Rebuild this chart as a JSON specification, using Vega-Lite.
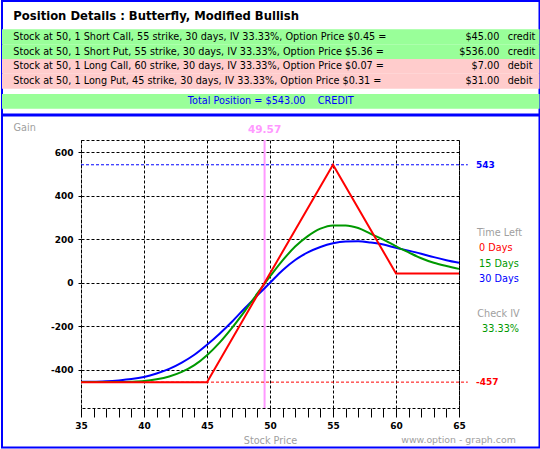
{
  "$schema": "https://vega.github.io/schema/vega-lite/v6.json",
  "background": "white",
  "padding": 0,
  "spacing": -2,
  "resolve": {"scale": {"color": "independent"}, "legend": {"color": "independent"}},
  "config": {
    "font": "DejaVu Sans",
    "view": {"stroke": null},
    "axisX": {
      "tickCount": 30, "grid": true, "gridColor": "black", "gridDash": [3, 2],
      "domain": false, "tickColor": "black", "tickSize": 9,
      "labelFont": "DejaVu Sans", "labelFontWeight": "bold", "labelFontSize": 9, "labelColor": "black",
      "labelPadding": 4, "labelFlush": false, "labelOverlap": false, "labelBound": false,
      "titleFont": "DejaVu Sans", "titleFontWeight": "normal", "titleFontSize": 9.7, "titleColor": "#a0a0a0",
      "titlePadding": 5
    },
    "axisY": {
      "tickCount": 6, "grid": true, "gridColor": "black", "gridDash": [3, 2],
      "domain": false, "tickColor": "black", "tickSize": 5, "tickDash": [3, 2],
      "labelFont": "DejaVu Sans", "labelFontWeight": "bold", "labelFontSize": 9, "labelColor": "black",
      "labelPadding": 3, "labelFlush": false, "labelOverlap": false,
      "titleAngle": 0, "titleAlign": "left", "titleBaseline": "middle", "titleX": -68, "titleY": -13,
      "titleFont": "DejaVu Sans", "titleFontWeight": "normal", "titleFontSize": 9.7, "titleColor": "#a0a0a0"
    }
  },
  "datasets": {
    "legs": [
      {"leg": "Short Call", "desc": "Stock at 50, 1 Short Call, 55 strike, 30 days, IV 33.33%, Option Price $0.45 =", "amount": "$45.00", "side": "credit"},
      {"leg": "Short Put", "desc": "Stock at 50, 1 Short Put, 55 strike, 30 days, IV 33.33%, Option Price $5.36 =", "amount": "$536.00", "side": "credit"},
      {"leg": "Long Call", "desc": "Stock at 50, 1 Long Call, 60 strike, 30 days, IV 33.33%, Option Price $0.07 =", "amount": "$7.00", "side": "debit"},
      {"leg": "Long Put", "desc": "Stock at 50, 1 Long Put, 45 strike, 30 days, IV 33.33%, Option Price $0.31 =", "amount": "$31.00", "side": "debit"},
      {"leg": "Total", "desc": "Total Position = $543.00\u00a0\u00a0\u00a0\u00a0CREDIT", "amount": "$543.00", "side": "total"}
    ],
    "curves": [
      {"S": 35, "pl": -455, "t": "30 Days"}, {"S": 36, "pl": -455, "t": "30 Days"}, {"S": 37, "pl": -453, "t": "30 Days"},
      {"S": 38, "pl": -449, "t": "30 Days"}, {"S": 39, "pl": -443, "t": "30 Days"}, {"S": 40, "pl": -433, "t": "30 Days"},
      {"S": 41, "pl": -417, "t": "30 Days"}, {"S": 42, "pl": -396, "t": "30 Days"}, {"S": 43, "pl": -367, "t": "30 Days"},
      {"S": 44, "pl": -331, "t": "30 Days"}, {"S": 45, "pl": -285, "t": "30 Days"}, {"S": 46, "pl": -234, "t": "30 Days"},
      {"S": 47, "pl": -178, "t": "30 Days"}, {"S": 48, "pl": -117, "t": "30 Days"}, {"S": 49, "pl": -58, "t": "30 Days"},
      {"S": 50, "pl": 0, "t": "30 Days"}, {"S": 51, "pl": 58, "t": "30 Days"}, {"S": 52, "pl": 105, "t": "30 Days"},
      {"S": 53, "pl": 140, "t": "30 Days"}, {"S": 54, "pl": 165, "t": "30 Days"}, {"S": 55, "pl": 182, "t": "30 Days"},
      {"S": 56, "pl": 190, "t": "30 Days"}, {"S": 57, "pl": 191, "t": "30 Days"}, {"S": 58, "pl": 185, "t": "30 Days"},
      {"S": 59, "pl": 176, "t": "30 Days"}, {"S": 60, "pl": 161, "t": "30 Days"}, {"S": 61, "pl": 148, "t": "30 Days"},
      {"S": 62, "pl": 134, "t": "30 Days"}, {"S": 63, "pl": 118, "t": "30 Days"}, {"S": 64, "pl": 104, "t": "30 Days"},
      {"S": 65, "pl": 92, "t": "30 Days"},
      {"S": 35, "pl": -456, "t": "15 Days"}, {"S": 36, "pl": -456, "t": "15 Days"}, {"S": 37, "pl": -456, "t": "15 Days"},
      {"S": 38, "pl": -456, "t": "15 Days"}, {"S": 39, "pl": -455, "t": "15 Days"}, {"S": 40, "pl": -452, "t": "15 Days"},
      {"S": 41, "pl": -444, "t": "15 Days"}, {"S": 42, "pl": -431, "t": "15 Days"}, {"S": 43, "pl": -410, "t": "15 Days"},
      {"S": 44, "pl": -379, "t": "15 Days"}, {"S": 45, "pl": -333, "t": "15 Days"}, {"S": 46, "pl": -275, "t": "15 Days"},
      {"S": 47, "pl": -206, "t": "15 Days"}, {"S": 48, "pl": -130, "t": "15 Days"}, {"S": 49, "pl": -49, "t": "15 Days"},
      {"S": 50, "pl": 29, "t": "15 Days"}, {"S": 51, "pl": 103, "t": "15 Days"}, {"S": 52, "pl": 167, "t": "15 Days"},
      {"S": 53, "pl": 215, "t": "15 Days"}, {"S": 54, "pl": 249, "t": "15 Days"}, {"S": 55, "pl": 264, "t": "15 Days"},
      {"S": 56, "pl": 264, "t": "15 Days"}, {"S": 57, "pl": 252, "t": "15 Days"}, {"S": 58, "pl": 225, "t": "15 Days"},
      {"S": 59, "pl": 199, "t": "15 Days"}, {"S": 60, "pl": 168, "t": "15 Days"}, {"S": 61, "pl": 140, "t": "15 Days"},
      {"S": 62, "pl": 113, "t": "15 Days"}, {"S": 63, "pl": 92, "t": "15 Days"}, {"S": 64, "pl": 77, "t": "15 Days"},
      {"S": 65, "pl": 64, "t": "15 Days"}
    ],
    "expiry": [
      {"S": 35, "pl": -457, "t": "0 Days"},
      {"S": 45, "pl": -457, "t": "0 Days"},
      {"S": 55, "pl": 543, "t": "0 Days"},
      {"S": 60, "pl": 43, "t": "0 Days"},
      {"S": 65, "pl": 43, "t": "0 Days"}
    ],
    "levels": [
      {"pl": 543, "label": "543", "kind": "max"},
      {"pl": -457, "label": "-457", "kind": "min"}
    ],
    "breakeven": [{"S": 49.57, "label": "49.57"}]
  },
  "vconcat": [
    {
      "width": 537.5,
      "height": 113.5,
      "view": {"stroke": "#0000ff", "strokeWidth": 2, "fill": "white"},
      "title": {
        "text": "Position Details : Butterfly, Modified Bullish",
        "anchor": "start", "frame": "group", "dx": 11.3, "offset": -22,
        "font": "DejaVu Sans", "fontSize": 11.6, "fontWeight": "bold", "color": "black"
      },
      "data": {"name": "legs"},
      "encoding": {
        "y": {"field": "leg", "type": "nominal", "axis": null,
              "scale": {"domain": ["heading", "Short Call", "Short Put", "Long Call", "Long Put", "Total"],
                        "paddingInner": 0, "paddingOuter": 0.8215, "align": 0.551}}
      },
      "layer": [
        {
          "transform": [{"filter": "datum.side !== 'total'"}],
          "mark": {"type": "rect"},
          "encoding": {"color": {"condition": {"test": "datum.side === 'debit'", "value": "#ffcccc"}, "value": "#99ff99"}}
        },
        {
          "transform": [{"filter": "datum.side === 'total'"}],
          "mark": {"type": "rect", "yOffset": 5.3, "color": "#99ff99"}
        },
        {
          "transform": [{"filter": "datum.side !== 'total'"}],
          "mark": {"type": "text", "align": "left", "dx": -257.5, "fontSize": 9.7, "color": "black"},
          "encoding": {"text": {"field": "desc"}}
        },
        {
          "transform": [{"filter": "datum.side !== 'total'"}],
          "mark": {"type": "text", "align": "right", "dx": 228.55, "fontSize": 9.7, "color": "black"},
          "encoding": {"text": {"field": "amount"}}
        },
        {
          "transform": [{"filter": "datum.side !== 'total'"}],
          "mark": {"type": "text", "align": "left", "dx": 236.95, "fontSize": 9.7, "color": "black"},
          "encoding": {"text": {"field": "side"}}
        },
        {
          "transform": [{"filter": "datum.side === 'total'"}],
          "mark": {"type": "text", "align": "center", "yOffset": 5.3, "fontSize": 9.7, "color": "#0000ff"},
          "encoding": {"text": {"field": "desc"}}
        }
      ]
    },
    {
      "bounds": "flush",
      "spacing": 0,
      "resolve": {"scale": {"color": "independent"}, "legend": {"color": "independent"}},
      "hconcat": [
        {
          "width": 79,
          "height": 268,
          "data": {"values": []},
          "mark": {"type": "point", "opacity": 0}
        },
        {
          "width": 378,
          "height": 268,
          "view": {"stroke": "black", "strokeDash": [3, 2], "strokeWidth": 1},
          "layer": [
            {
              "data": {"values": [{}]},
              "mark": {"type": "rect", "fill": "transparent", "stroke": "#0000ff", "strokeWidth": 2},
              "encoding": {
                "x": {"datum": 28.73, "axis": {"labelExpr": "datum.value % 5 === 0 ? datum.label : ''", "gridOpacity": {"condition": {"test": "datum.value % 5 === 0", "value": 1}, "value": 0}}},
                "x2": {"datum": 71.389},
                "y": {"datum": 769.7, "axis": {"labelExpr": "'' + datum.value"}},
                "y2": {"datum": -757.7}
              }
            },
            {
              "data": {"name": "breakeven"},
              "mark": {"type": "rule", "color": "#ff99ff", "strokeWidth": 2},
              "encoding": {
                "x": {"field": "S", "type": "quantitative", "title": "Stock Price", "axis": {"labelExpr": "datum.value % 5 === 0 ? datum.label : ''", "gridOpacity": {"condition": {"test": "datum.value % 5 === 0", "value": 1}, "value": 0}}},
                "y": {"datum": 657, "axis": {"labelExpr": "'' + datum.value"}},
                "y2": {"datum": -576}
              }
            },
            {
              "data": {"name": "breakeven"},
              "mark": {"type": "text", "baseline": "bottom", "dy": -5, "fontSize": 10.5, "fontWeight": "bold", "color": "#ff99ff"},
              "encoding": {
                "x": {"field": "S", "type": "quantitative", "title": "Stock Price", "axis": {"labelExpr": "datum.value % 5 === 0 ? datum.label : ''", "gridOpacity": {"condition": {"test": "datum.value % 5 === 0", "value": 1}, "value": 0}}},
                "y": {"datum": 657, "axis": {"labelExpr": "'' + datum.value"}},
                "text": {"field": "label"}
              }
            },
            {
              "data": {"name": "levels"},
              "mark": {"type": "rule", "strokeDash": [3, 2], "strokeWidth": 1},
              "encoding": {
                "x": {"datum": 35, "axis": {"labelExpr": "datum.value % 5 === 0 ? datum.label : ''", "gridOpacity": {"condition": {"test": "datum.value % 5 === 0", "value": 1}, "value": 0}}},
                "x2": {"datum": 65.7},
                "y": {"field": "pl", "type": "quantitative", "title": "Gain", "axis": {"labelExpr": "'' + datum.value"}},
                "color": {"condition": {"test": "datum.kind === 'max'", "value": "#0000ff"}, "value": "#ff0000"}
              }
            },
            {
              "data": {"name": "levels"},
              "mark": {"type": "text", "align": "left", "baseline": "middle", "fontSize": 9, "fontWeight": "bold"},
              "encoding": {
                "x": {"datum": 66.35, "axis": {"labelExpr": "datum.value % 5 === 0 ? datum.label : ''", "gridOpacity": {"condition": {"test": "datum.value % 5 === 0", "value": 1}, "value": 0}}},
                "y": {"field": "pl", "type": "quantitative", "title": "Gain", "axis": {"labelExpr": "'' + datum.value"}},
                "text": {"field": "label"},
                "color": {"condition": {"test": "datum.kind === 'max'", "value": "#0000ff"}, "value": "#ff0000"}
              }
            },
            {
              "data": {"name": "curves"},
              "mark": {"type": "line", "interpolate": "monotone", "strokeWidth": 2},
              "encoding": {
                "x": {
                  "field": "S", "type": "quantitative", "title": "Stock Price",
                  "scale": {"domain": [35, 65], "nice": false, "zero": false},
                  "axis": {"labelExpr": "datum.value % 5 === 0 ? datum.label : ''", "gridOpacity": {"condition": {"test": "datum.value % 5 === 0", "value": 1}, "value": 0}}
                },
                "y": {
                  "field": "pl", "type": "quantitative", "title": "Gain",
                  "scale": {"domain": [-576, 657], "nice": false, "zero": false},
                  "axis": {"labelExpr": "'' + datum.value"}
                },
                "color": {
                  "field": "t", "type": "nominal",
                  "scale": {"domain": ["0 Days", "15 Days", "30 Days"], "range": ["#ff0000", "#009900", "#0000ff"]},
                  "legend": {
                    "title": "Time Left", "orient": "none", "legendX": 396, "legendY": 88.3,
                    "symbolSize": 0, "symbolOpacity": 0, "symbolStrokeWidth": 0, "labelOffset": -7.6,
                    "titleFont": "DejaVu Sans", "titleFontSize": 9.7, "titleFontWeight": "normal", "titleColor": "#a0a0a0",
                    "titleAnchor": "start", "titlePadding": 5.5,
                    "labelFont": "DejaVu Sans", "labelFontSize": 9.7, "rowPadding": 4.2,
                    "encode": {"labels": {"update": {"fill": {"signal": "datum.label === '0 Days' ? '#ff0000' : datum.label === '15 Days' ? '#009900' : '#0000ff'"}}}}
                  }
                }
              }
            },
            {
              "data": {"name": "expiry"},
              "mark": {"type": "line", "strokeWidth": 2},
              "encoding": {
                "x": {"field": "S", "type": "quantitative", "title": "Stock Price", "axis": {"labelExpr": "datum.value % 5 === 0 ? datum.label : ''", "gridOpacity": {"condition": {"test": "datum.value % 5 === 0", "value": 1}, "value": 0}}},
                "y": {"field": "pl", "type": "quantitative", "title": "Gain", "axis": {"labelExpr": "'' + datum.value"}},
                "color": {
                  "field": "t", "type": "nominal",
                  "scale": {"domain": ["0 Days", "15 Days", "30 Days"], "range": ["#ff0000", "#009900", "#0000ff"]}
                }
              }
            },
            {
              "data": {"values": [{}]},
              "mark": {"type": "text", "align": "right", "baseline": "middle", "fontSize": 9.4, "color": "#a0a0a0"},
              "encoding": {
                "x": {"datum": 69.51, "axis": {"labelExpr": "datum.value % 5 === 0 ? datum.label : ''", "gridOpacity": {"condition": {"test": "datum.value % 5 === 0", "value": 1}, "value": 0}}},
                "y": {"datum": -723.2, "axis": {"labelExpr": "'' + datum.value"}},
                "text": {"value": "www.option - graph.com"}
              }
            },
            {
              "data": {"values": [{}]},
              "mark": {"type": "text", "align": "center", "baseline": "middle", "fontSize": 9.7, "color": "#a0a0a0"},
              "encoding": {
                "x": {"datum": 68.13, "axis": {"labelExpr": "datum.value % 5 === 0 ? datum.label : ''", "gridOpacity": {"condition": {"test": "datum.value % 5 === 0", "value": 1}, "value": 0}}},
                "y": {"datum": -142.1, "axis": {"labelExpr": "'' + datum.value"}},
                "text": {"value": "Check IV"}
              }
            },
            {
              "data": {"values": [{}]},
              "mark": {"type": "text", "align": "center", "baseline": "middle", "fontSize": 9.7, "color": "#009900"},
              "encoding": {
                "x": {"datum": 68.3, "axis": {"labelExpr": "datum.value % 5 === 0 ? datum.label : ''", "gridOpacity": {"condition": {"test": "datum.value % 5 === 0", "value": 1}, "value": 0}}},
                "y": {"datum": -211.2, "axis": {"labelExpr": "'' + datum.value"}},
                "text": {"value": "33.33%"}
              }
            }
          ]
        }
      ]
    }
  ]
}
